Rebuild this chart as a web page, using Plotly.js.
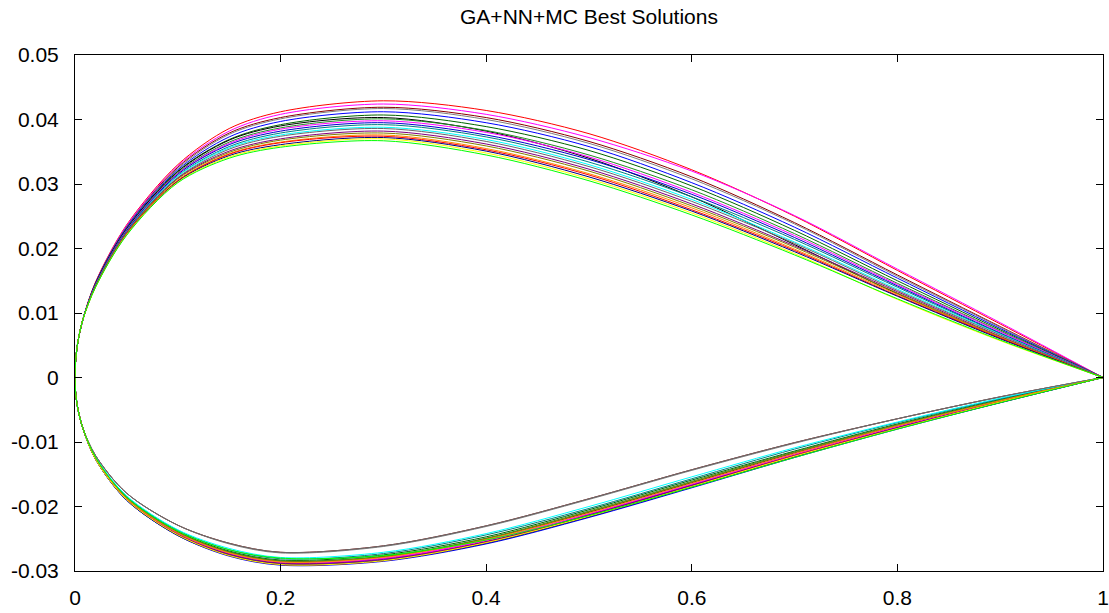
<!DOCTYPE html>
<html>
<head>
<meta charset="utf-8">
<script src="https://cdn.plot.ly/plotly-3.0.1.min.js"></script>
<style>html,body{margin:0;padding:0;background:#fff;}#chart{width:1109px;height:613px;}</style>
</head>
<body>
<div id="chart"></div>
<script>
// Chord stations shared by every solution
const X_LE = [0, 0.0005, 0.0025, 0.0075];
const X_BODY = [0.02, 0.05, 0.1, 0.15, 0.2, 0.3, 0.4, 0.5, 0.6, 0.7, 0.8, 0.9];
const X_TE = 1;
// Leading edge (all solutions coincide there)
const UP_LE = [0, 0.0023, 0.0052, 0.0089];
const LO_LE = [0, -0.0021, -0.0046, -0.0078];

// Upper surface y at X_BODY, one row per solution
const UPPER = [
  [0.0148, 0.0236, 0.0330, 0.0386, 0.0412, 0.0429, 0.0414, 0.0378, 0.0322, 0.0250, 0.0166, 0.0083],
  [0.0147, 0.0235, 0.0328, 0.0382, 0.0408, 0.0424, 0.0408, 0.0372, 0.0320, 0.0251, 0.0168, 0.0085],
  [0.0147, 0.0233, 0.0326, 0.0379, 0.0403, 0.0419, 0.0403, 0.0366, 0.0311, 0.0240, 0.0159, 0.0079],
  [0.0146, 0.0233, 0.0324, 0.0377, 0.0401, 0.0417, 0.0400, 0.0363, 0.0308, 0.0238, 0.0157, 0.0078],
  [0.0146, 0.0232, 0.0322, 0.0373, 0.0397, 0.0412, 0.0395, 0.0358, 0.0302, 0.0233, 0.0154, 0.0076],
  [0.0145, 0.0230, 0.0320, 0.0369, 0.0392, 0.0407, 0.0389, 0.0352, 0.0297, 0.0228, 0.0150, 0.0074],
  [0.0145, 0.0230, 0.0319, 0.0368, 0.0390, 0.0403, 0.0382, 0.0340, 0.0280, 0.0206, 0.0130, 0.0062],
  [0.0144, 0.0229, 0.0317, 0.0365, 0.0387, 0.0401, 0.0383, 0.0345, 0.0291, 0.0223, 0.0146, 0.0072],
  [0.0144, 0.0228, 0.0316, 0.0363, 0.0385, 0.0398, 0.0380, 0.0342, 0.0287, 0.0220, 0.0144, 0.0071],
  [0.0144, 0.0227, 0.0315, 0.0361, 0.0382, 0.0395, 0.0376, 0.0338, 0.0284, 0.0217, 0.0142, 0.0069],
  [0.0143, 0.0226, 0.0313, 0.0358, 0.0379, 0.0392, 0.0373, 0.0334, 0.0280, 0.0214, 0.0140, 0.0068],
  [0.0143, 0.0225, 0.0312, 0.0356, 0.0376, 0.0388, 0.0369, 0.0330, 0.0276, 0.0210, 0.0137, 0.0067],
  [0.0142, 0.0225, 0.0310, 0.0354, 0.0374, 0.0386, 0.0366, 0.0327, 0.0273, 0.0208, 0.0135, 0.0066],
  [0.0142, 0.0224, 0.0309, 0.0351, 0.0370, 0.0382, 0.0362, 0.0323, 0.0269, 0.0204, 0.0133, 0.0064],
  [0.0142, 0.0223, 0.0308, 0.0349, 0.0368, 0.0379, 0.0359, 0.0320, 0.0266, 0.0202, 0.0131, 0.0063],
  [0.0141, 0.0222, 0.0306, 0.0347, 0.0365, 0.0376, 0.0355, 0.0316, 0.0263, 0.0199, 0.0129, 0.0062],
  [0.0141, 0.0222, 0.0305, 0.0346, 0.0364, 0.0374, 0.0353, 0.0314, 0.0260, 0.0197, 0.0127, 0.0061],
  [0.0141, 0.0221, 0.0304, 0.0344, 0.0361, 0.0372, 0.0351, 0.0311, 0.0258, 0.0195, 0.0126, 0.0060],
  [0.0140, 0.0221, 0.0303, 0.0342, 0.0359, 0.0370, 0.0348, 0.0308, 0.0255, 0.0192, 0.0121, 0.0057],
  [0.0140, 0.0220, 0.0302, 0.0340, 0.0357, 0.0367, 0.0345, 0.0305, 0.0252, 0.0190, 0.0122, 0.0058]
];

// Lower surface y at X_BODY, one row per solution
const LOWER = [
  [-0.0126, -0.0188, -0.0243, -0.0274, -0.0288, -0.0281, -0.0254, -0.0213, -0.0167, -0.0120, -0.0077, -0.0037],
  [-0.0126, -0.0188, -0.0242, -0.0273, -0.0287, -0.0281, -0.0253, -0.0212, -0.0166, -0.0119, -0.0076, -0.0037],
  [-0.0121, -0.0179, -0.0229, -0.0257, -0.0271, -0.0261, -0.0230, -0.0188, -0.0143, -0.0101, -0.0064, -0.0030],
  [-0.0121, -0.0179, -0.0229, -0.0258, -0.0272, -0.0262, -0.0231, -0.0189, -0.0144, -0.0102, -0.0064, -0.0030],
  [-0.0127, -0.0190, -0.0245, -0.0277, -0.0291, -0.0285, -0.0258, -0.0217, -0.0171, -0.0124, -0.0080, -0.0039],
  [-0.0124, -0.0185, -0.0239, -0.0269, -0.0283, -0.0275, -0.0247, -0.0205, -0.0159, -0.0114, -0.0072, -0.0034],
  [-0.0125, -0.0187, -0.0241, -0.0271, -0.0285, -0.0278, -0.0250, -0.0209, -0.0163, -0.0117, -0.0075, -0.0036],
  [-0.0125, -0.0186, -0.0240, -0.0270, -0.0284, -0.0277, -0.0249, -0.0207, -0.0161, -0.0115, -0.0073, -0.0035],
  [-0.0126, -0.0188, -0.0242, -0.0272, -0.0286, -0.0280, -0.0252, -0.0211, -0.0165, -0.0118, -0.0076, -0.0037],
  [-0.0126, -0.0189, -0.0244, -0.0275, -0.0289, -0.0283, -0.0255, -0.0214, -0.0168, -0.0122, -0.0078, -0.0038],
  [-0.0124, -0.0184, -0.0237, -0.0267, -0.0281, -0.0273, -0.0244, -0.0203, -0.0157, -0.0111, -0.0070, -0.0033],
  [-0.0123, -0.0183, -0.0236, -0.0265, -0.0279, -0.0271, -0.0242, -0.0200, -0.0154, -0.0109, -0.0069, -0.0032],
  [-0.0121, -0.0179, -0.0229, -0.0257, -0.0271, -0.0261, -0.0230, -0.0188, -0.0143, -0.0101, -0.0064, -0.0030],
  [-0.0126, -0.0189, -0.0243, -0.0274, -0.0288, -0.0282, -0.0255, -0.0213, -0.0167, -0.0121, -0.0078, -0.0038],
  [-0.0125, -0.0187, -0.0240, -0.0271, -0.0285, -0.0278, -0.0250, -0.0208, -0.0162, -0.0116, -0.0074, -0.0036],
  [-0.0125, -0.0187, -0.0241, -0.0272, -0.0286, -0.0279, -0.0251, -0.0210, -0.0164, -0.0118, -0.0075, -0.0036],
  [-0.0127, -0.0189, -0.0244, -0.0276, -0.0290, -0.0284, -0.0256, -0.0215, -0.0169, -0.0122, -0.0079, -0.0038],
  [-0.0127, -0.0190, -0.0245, -0.0276, -0.0290, -0.0284, -0.0257, -0.0216, -0.0170, -0.0123, -0.0079, -0.0039],
  [-0.0127, -0.0189, -0.0244, -0.0276, -0.0290, -0.0284, -0.0256, -0.0215, -0.0169, -0.0122, -0.0079, -0.0038],
  [-0.0124, -0.0185, -0.0238, -0.0267, -0.0280, -0.0276, -0.0252, -0.0214, -0.0170, -0.0124, -0.0080, -0.0039]
];

const COLORS = ['#ff0000', '#ff00ff', '#8b0000', '#808080', '#0000ff', '#006400', '#000000', '#228b22',
  '#ff00ff', '#0000cd', '#008080', '#00ffff', '#696969', '#800080', '#808000', '#ff8c00',
  '#ff0000', '#000080', '#ffff00', '#00ff00'];

const X_TICKS = [0, 0.2, 0.4, 0.6, 0.8, 1];
const X_TICK_LABELS = ['0', '0.2', '0.4', '0.6', '0.8', '1'];
const Y_TICKS = [-0.03, -0.02, -0.01, 0, 0.01, 0.02, 0.03, 0.04, 0.05];
const Y_TICK_LABELS = ['-0.03', '-0.02', '-0.01', '0', '0.01', '0.02', '0.03', '0.04', '0.05'];

const xs = X_LE.concat(X_BODY, [X_TE]);
const traces = [];
UPPER.forEach((up, i) => {
  const surfaces = [UP_LE.concat(up, [0]), LO_LE.concat(LOWER[i], [0])];
  surfaces.forEach(ys => {
    traces.push({x: xs, y: ys, type: 'scatter', mode: 'lines',
      line: {color: COLORS[i], width: 1, shape: 'spline', smoothing: 0.9, simplify: false},
      showlegend: false, hoverinfo: 'skip'});
  });
});

const FONT = '"Liberation Sans", Arial, Helvetica, sans-serif';
const axisCommon = {showgrid: false, zeroline: false, showline: true, linecolor: '#000', linewidth: 1,
  mirror: 'allticks', ticks: 'inside', ticklen: 7, tickcolor: '#000', tickwidth: 1,
  tickfont: {family: FONT, size: 21, color: '#000'}, tickmode: 'array'};

const layout = {
  width: 1109, height: 613,
  margin: {l: 75, r: 6, t: 55, b: 42, pad: 0},
  paper_bgcolor: '#fff', plot_bgcolor: '#fff',
  title: {text: 'GA+NN+MC Best Solutions', font: {family: FONT, size: 21, color: '#000'},
    x: 0.5, xref: 'paper', xanchor: 'center', y: 0.973, yref: 'container', yanchor: 'middle'},
  xaxis: Object.assign({}, axisCommon, {range: [0, 1], tickvals: X_TICKS, ticktext: X_TICK_LABELS, ticklabelstandoff: 8}),
  yaxis: Object.assign({}, axisCommon, {range: [-0.03, 0.05], tickvals: Y_TICKS, ticktext: Y_TICK_LABELS, ticklabelstandoff: 11})
};

Plotly.newPlot('chart', traces, layout, {staticPlot: true, displayModeBar: false});
</script>
</body>
</html>
